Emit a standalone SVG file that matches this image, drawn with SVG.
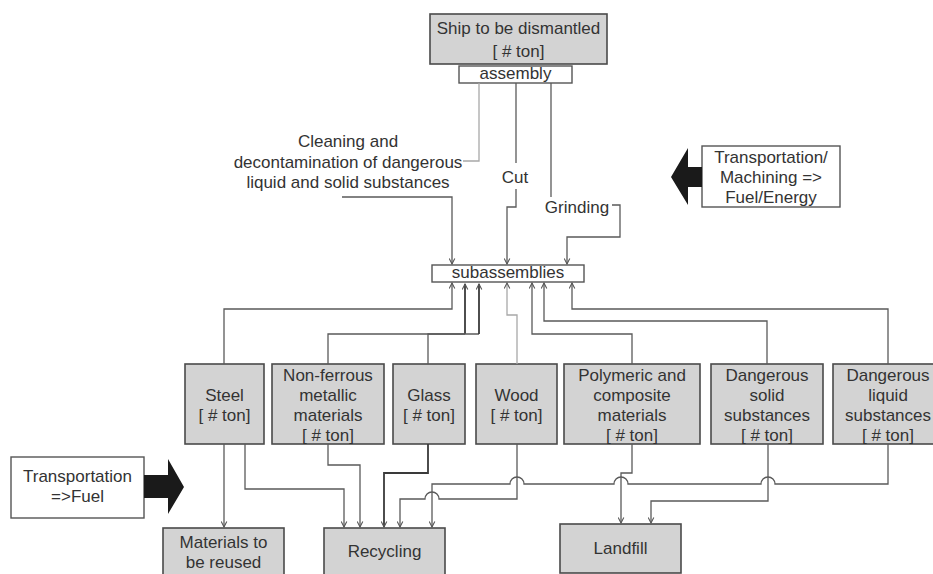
<svg xmlns="http://www.w3.org/2000/svg" width="933" height="574" viewBox="0 0 933 574">
  <style>
    text { font-family: "Liberation Sans", Arial, sans-serif; font-size: 17px; fill: #333; text-anchor: middle; }
    .box { fill: #d3d3d3; stroke: #4a4a4a; stroke-width: 1.6; }
    .wbox { fill: #fff; stroke: #555; stroke-width: 1.4; }
    .c { fill: none; stroke: #5a5a5a; stroke-width: 1.3; }
    .cl { fill: none; stroke: #a8a8a8; stroke-width: 1.3; }
    .cd { fill: none; stroke: #3a3a3a; stroke-width: 1.8; }
    .big { fill: #1a1a1a; }
  </style>
  <defs>
    <marker id="ah" viewBox="0 0 10 10" refX="9" refY="5" markerWidth="7" markerHeight="7" markerUnits="userSpaceOnUse" orient="auto">
      <path d="M1,1 L9,5 L1,9" fill="none" stroke="#555" stroke-width="1.5"/>
    </marker>
  </defs>

  <rect width="933" height="574" fill="#fff"/>

  <!-- nodes -->
  <g id="ship">
    <rect class="box" x="430" y="14" width="177" height="50"/>
    <text x="518.5" y="34">Ship to be dismantled</text>
    <text x="518.5" y="57">[ # ton]</text>
  </g>
  <g id="assembly">
    <rect class="wbox" x="459" y="66" width="113" height="17"/>
    <text x="515.5" y="79">assembly</text>
  </g>
  <g id="cleaning">
    <text x="348" y="147">Cleaning and</text>
    <text x="348" y="167.5">decontamination of dangerous</text>
    <text x="348" y="188">liquid and solid substances</text>
  </g>
  <g id="cut">
    <text x="515" y="183">Cut</text>
  </g>
  <g id="grinding">
    <text x="577" y="213">Grinding</text>
  </g>
  <g id="subassemblies">
    <rect class="wbox" x="432" y="265" width="152" height="17"/>
    <text x="508" y="278">subassemblies</text>
  </g>
  <g id="energy">
    <rect class="wbox" x="702" y="146" width="138" height="61"/>
    <text x="771" y="163">Transportation/</text>
    <text x="771" y="183">Machining =&gt;</text>
    <text x="771" y="203">Fuel/Energy</text>
    <polygon class="big" points="702,167 688,167 688,148 671,177 688,205 688,187 702,187"/>
  </g>
  <g id="fuel">
    <rect class="wbox" x="11" y="457" width="133" height="61"/>
    <text x="77.5" y="482">Transportation</text>
    <text x="77.5" y="502">=&gt;Fuel</text>
    <polygon class="big" points="144,475 168,475 168,459 184,487 168,514 168,498 144,498"/>
  </g>
  <g id="steel">
    <rect class="box" x="185" y="364" width="79" height="80"/>
    <text x="224.5" y="401">Steel</text>
    <text x="224.5" y="421">[ # ton]</text>
  </g>
  <g id="nonferrous">
    <rect class="box" x="272" y="364" width="112" height="80"/>
    <text x="328" y="381">Non-ferrous</text>
    <text x="328" y="401">metallic</text>
    <text x="328" y="421">materials</text>
    <text x="328" y="441">[ # ton]</text>
  </g>
  <g id="glass">
    <rect class="box" x="393" y="364" width="72" height="80"/>
    <text x="429" y="401">Glass</text>
    <text x="429" y="421">[ # ton]</text>
  </g>
  <g id="wood">
    <rect class="box" x="476" y="364" width="81" height="80"/>
    <text x="516.5" y="401">Wood</text>
    <text x="516.5" y="421">[ # ton]</text>
  </g>
  <g id="polymeric">
    <rect class="box" x="564" y="364" width="136" height="80"/>
    <text x="632" y="381">Polymeric and</text>
    <text x="632" y="401">composite</text>
    <text x="632" y="421">materials</text>
    <text x="632" y="441">[ # ton]</text>
  </g>
  <g id="dsolid">
    <rect class="box" x="711" y="364" width="112" height="80"/>
    <text x="767" y="381">Dangerous</text>
    <text x="767" y="401">solid</text>
    <text x="767" y="421">substances</text>
    <text x="767" y="441">[ # ton]</text>
  </g>
  <g id="dliquid">
    <rect class="box" x="833" y="364" width="110" height="80"/>
    <text x="888" y="381">Dangerous</text>
    <text x="888" y="401">liquid</text>
    <text x="888" y="421">substances</text>
    <text x="888" y="441">[ # ton]</text>
  </g>
  <g id="reused">
    <rect class="box" x="163" y="528" width="121" height="60"/>
    <text x="223.5" y="548">Materials to</text>
    <text x="223.5" y="568">be reused</text>
  </g>
  <g id="recycling">
    <rect class="box" x="324" y="528" width="121" height="60"/>
    <text x="384.5" y="557">Recycling</text>
  </g>
  <g id="landfill">
    <rect class="box" x="560" y="524" width="121" height="49"/>
    <text x="620.5" y="554">Landfill</text>
  </g>

  <!-- connectors -->
  <g id="connectors">
    <!-- assembly to process labels -->
    <polyline class="cl" points="479,83 479,161 463,161"/>
    <polyline class="c" points="516,83 516,163"/>
    <polyline class="c" points="551,83 551,197"/>
    <!-- process labels to subassemblies -->
    <polyline class="c" points="342,197 452,197 452,264" marker-end="url(#ah)"/>
    <polyline class="c" points="516,189 516,207 507,207 507,264" marker-end="url(#ah)"/>
    <polyline class="c" points="612,205 620,205 620,237 567,237 567,264" marker-end="url(#ah)"/>

    <!-- material boxes back to subassemblies -->
    <polyline class="c" points="224,364 224,309 452,309 452,283" marker-end="url(#ah)"/>
    <polyline class="c" points="328,364 328,334 465,334"/>
    <polyline class="cd" points="465,334 465,284" marker-end="url(#ah)"/>
    <polyline class="c" points="428,364 428,334 479,334"/>
    <polyline class="cd" points="479,334 479,284" marker-end="url(#ah)"/>
    <polyline class="cl" points="517,364 517,315 507,315 507,283" marker-end="url(#ah)"/>
    <polyline class="c" points="632,364 632,334 532,334 532,283" marker-end="url(#ah)"/>
    <polyline class="c" points="767,364 767,321 544,321 544,283" marker-end="url(#ah)"/>
    <polyline class="c" points="888,364 888,309 572,309 572,283" marker-end="url(#ah)"/>

    <!-- material boxes to destinations -->
    <polyline class="c" points="224,444 224,527" marker-end="url(#ah)"/>
    <polyline class="c" points="245,444 245,489 344,489 344,527" marker-end="url(#ah)"/>
    <polyline class="c" points="328,444 328,465 360,465 360,527" marker-end="url(#ah)"/>
    <polyline class="cd" points="428,444 428,473 384,473 384,527" marker-end="url(#ah)"/>
    <path class="c" d="M517,444 V499 H439 A7,7 0 0 0 425,499 H400 V527" marker-end="url(#ah)"/>
    <path class="c" d="M888,444 V484 H775 A7,7 0 0 0 761,484 H628 A7,7 0 0 0 614,484 H524 A7,7 0 0 0 510,484 H432 V527" marker-end="url(#ah)"/>
    <polyline class="c" points="632,444 632,473 621,473 621,523" marker-end="url(#ah)"/>
    <polyline class="c" points="768,444 768,501 651,501 651,523" marker-end="url(#ah)"/>
  </g>
</svg>
